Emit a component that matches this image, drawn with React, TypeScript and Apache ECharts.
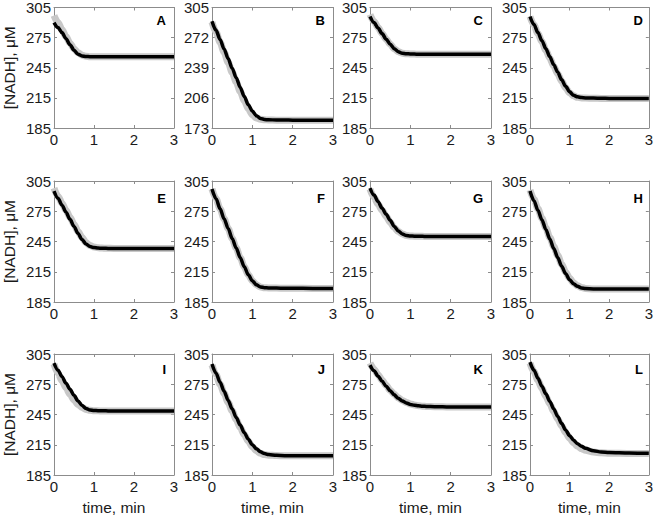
import React, { useEffect, useRef } from "react";
import * as echarts from "echarts";

// time grid (min)
const T = [0, 0.1, 0.2, 0.3, 0.4, 0.5, 0.6, 0.7, 0.8, 0.9, 1.0, 1.1, 1.2, 1.3, 1.4, 1.6, 1.8, 2.0, 2.5, 3.0];

const LABELS = ["A", "B", "C", "D", "E", "F", "G", "H", "I", "J", "K", "L"];

// fitted curves ([NADH], µM)
const FIT_A = [290, 285, 280, 274, 268, 262.5, 258.5, 256.8, 256.2, 256, 256, 256, 256, 256, 256, 256, 256, 256, 256, 256];
const FIT_B = [290, 280, 270, 259.5, 249, 238.5, 228, 217.5, 207.5, 198.5, 191.5, 186.5, 183.5, 182.3, 182, 181.8, 181.7, 181.6, 181.5, 181.5];
const FIT_C = [296, 290, 284.5, 279, 273.5, 268.5, 264, 261, 259.5, 259, 258.8, 258.6, 258.5, 258.5, 258.5, 258.5, 258.5, 258.5, 258.5, 258.5];
const FIT_D = [296, 288, 280, 272, 264, 256, 248, 240.5, 233, 226.5, 221, 217.5, 216, 215.3, 215, 214.8, 214.6, 214.5, 214.5, 214.5];
const FIT_E = [295, 288, 281, 274, 267, 260, 253, 247, 242.5, 240, 239, 238.5, 238.3, 238.2, 238.1, 238, 238, 238, 238, 238];
const FIT_F = [297, 287.5, 277.5, 267.5, 258, 248, 238.5, 229, 220, 212, 206, 202, 200, 199.2, 199, 198.8, 198.7, 198.6, 198.5, 198.5];
const FIT_G = [298, 291, 284.5, 278, 272, 266, 260, 255.5, 252.5, 251, 250.5, 250.3, 250.2, 250.1, 250, 250, 250, 250, 250, 250];
const FIT_H = [295, 285.5, 276, 266.5, 257, 247.5, 238, 229, 220.5, 213, 207, 203, 200.5, 199, 198.3, 198, 197.9, 197.8, 197.8, 197.8];
const FIT_I = [296, 289, 282.5, 276, 270, 264, 258.5, 254, 251, 249.5, 249, 248.8, 248.7, 248.6, 248.5, 248.5, 248.5, 248.5, 248.5, 248.5];
const FIT_J = [295, 286, 277, 268, 259, 250.5, 242, 234.5, 227, 220.5, 215, 211, 208, 206.3, 205.3, 204.5, 204.2, 204, 204, 204];
const FIT_K = [294, 288.5, 283, 278, 273, 268.5, 264.5, 261, 258.5, 256.5, 255, 254.2, 253.6, 253.2, 253, 252.8, 252.6, 252.5, 252.5, 252.5];
const FIT_L = [297, 289, 281, 273, 265.5, 258, 250.5, 243, 236, 229.5, 224, 219.5, 216, 213.5, 211.5, 209, 207.8, 207.2, 206.7, 206.5];

// measured traces ([NADH], µM), gray
const MEAS_A = [297, 290, 283, 276, 269.5, 264, 260, 257.5, 256.5, 256, 256, 256, 256, 256, 256, 256, 256, 256, 256, 256];
const MEAS_B = [289, 278, 267, 256, 245, 234, 223.5, 213, 203, 194, 187.5, 184, 182.5, 182, 181.8, 181.6, 181.5, 181.5, 181.5, 181.5];
const MEAS_C = [298, 291, 285, 279, 273.5, 268.5, 264, 261, 259.5, 259, 258.8, 258.6, 258.5, 258.5, 258.5, 258.5, 258.5, 258.5, 258.5, 258.5];
const MEAS_D = [296, 287.5, 279, 271, 262.5, 254.5, 246.5, 239, 231.5, 225, 220, 217, 215.5, 215, 214.8, 214.6, 214.5, 214.5, 214.5, 214.5];
const MEAS_E = [298, 290, 283, 276, 269, 262, 255, 249, 244, 241, 239.5, 238.8, 238.5, 238.3, 238.2, 238, 238, 238, 238, 238];
const MEAS_F = [297, 287.5, 277.5, 267.5, 258, 248, 238.5, 229, 220, 212, 206, 202, 200, 199.2, 199, 198.8, 198.7, 198.6, 198.5, 198.5];
const MEAS_G = [297, 289, 282, 276, 270, 264, 259, 255, 252.5, 251, 250.5, 250.3, 250.2, 250.1, 250, 250, 250, 250, 250, 250];
const MEAS_H = [296, 287, 277.5, 268, 258.5, 249, 240, 231, 222.5, 214.5, 208.5, 204, 201, 199.5, 198.5, 198, 197.9, 197.8, 197.8, 197.8];
const MEAS_I = [295, 286, 278.5, 271.5, 265, 259.5, 255, 252, 250, 249.2, 248.8, 248.6, 248.5, 248.5, 248.5, 248.5, 248.5, 248.5, 248.5, 248.5];
const MEAS_J = [294, 284.5, 275, 266, 257, 248.5, 240, 232, 225, 218.5, 213, 209, 206.5, 205.3, 204.7, 204.3, 204, 204, 204, 204];
const MEAS_K = [296, 290, 284.5, 279, 274, 269, 265, 261.5, 259, 257, 255.5, 254.5, 253.8, 253.3, 253, 252.8, 252.6, 252.5, 252.5, 252.5];
const MEAS_L = [296, 287.5, 279, 271, 263, 255.5, 248, 240.5, 233.5, 227, 221.5, 217, 213.5, 211, 209.5, 207.8, 207, 206.6, 206.3, 206.2];

const FITS = [FIT_A, FIT_B, FIT_C, FIT_D, FIT_E, FIT_F, FIT_G, FIT_H, FIT_I, FIT_J, FIT_K, FIT_L];
const MEAS = [MEAS_A, MEAS_B, MEAS_C, MEAS_D, MEAS_E, MEAS_F, MEAS_G, MEAS_H, MEAS_I, MEAS_J, MEAS_K, MEAS_L];

// y axis ranges
const Y_MIN = [185, 173, 185, 185, 185, 185, 185, 185, 185, 185, 185, 185];
const Y_MAX = [305, 305, 305, 305, 305, 305, 305, 305, 305, 305, 305, 305];
const Y_STEP = [30, 33, 30, 30, 30, 30, 30, 30, 30, 30, 30, 30];

const X_MIN = 0;
const X_MAX = 3;
const X_STEP = 1;

const Y_TITLE = "[NADH], \u03bcM";
const X_TITLE = "time, min";

const COL_LEFT = [53, 212, 370, 530];
const ROW_TOP = [7, 181, 354];
const PW = 121;
const PH = 121;
const LETTER_DY = [13, 17, 15];

const FONT = "'Liberation Sans', Arial, sans-serif";
const BOX = "#8c8c8c";
const TXT = "#1a1a1a";

export default function App() {
  const ref = useRef<HTMLDivElement>(null);
  useEffect(() => {
    if (!ref.current) return;
    const chart = echarts.init(ref.current, undefined, { renderer: "svg" });
    const grid: any[] = [];
    const xAxis: any[] = [];
    const yAxis: any[] = [];
    const series: any[] = [];
    const graphic: any[] = [];
    for (let i = 0; i < 12; i++) {
      const col = i % 4;
      const row = Math.floor(i / 4);
      const left = COL_LEFT[col];
      const top = ROW_TOP[row];
      grid.push({ left, top, width: PW, height: PH, containLabel: false });
      const axLine = { show: true, onZero: false, lineStyle: { color: BOX, width: 1 } };
      const tick = { show: true, inside: true, length: 3, lineStyle: { color: BOX } };
      xAxis.push({
        gridIndex: i, type: "value", position: "bottom", min: X_MIN, max: X_MAX, interval: X_STEP,
        axisLine: axLine, axisTick: tick, splitLine: { show: false },
        axisLabel: { fontSize: 15, margin: 4, color: TXT, fontFamily: FONT },
        name: row === 2 ? X_TITLE : "", nameLocation: "middle", nameGap: 24,
        nameTextStyle: { fontSize: 15.5, color: TXT, fontFamily: FONT },
      });
      xAxis.push({
        gridIndex: i, type: "value", position: "top", min: X_MIN, max: X_MAX, interval: X_STEP,
        axisLine: axLine, axisTick: tick, splitLine: { show: false }, axisLabel: { show: false },
      });
      yAxis.push({
        gridIndex: i, type: "value", position: "left", min: Y_MIN[i], max: Y_MAX[i], interval: Y_STEP[i],
        axisLine: axLine, axisTick: tick, splitLine: { show: false },
        axisLabel: { fontSize: 15, margin: 3, color: TXT, fontFamily: FONT },
        name: col === 0 ? Y_TITLE : "", nameLocation: "middle", nameGap: 37,
        nameTextStyle: { fontSize: 15.5, color: TXT, fontFamily: FONT },
      });
      yAxis.push({
        gridIndex: i, type: "value", position: "right", min: Y_MIN[i], max: Y_MAX[i], interval: Y_STEP[i],
        axisLine: axLine, axisTick: tick, splitLine: { show: false }, axisLabel: { show: false },
      });
      series.push({
        type: "line", xAxisIndex: 2 * i, yAxisIndex: 2 * i, showSymbol: false, smooth: 0.3,
        smoothMonotone: "x", lineStyle: { color: "#c8c8c8", width: 7 }, silent: true,
        data: T.map((t, k) => [t, MEAS[i][k]]),
      });
      series.push({
        type: "line", xAxisIndex: 2 * i, yAxisIndex: 2 * i, showSymbol: false, smooth: 0.3,
        smoothMonotone: "x", lineStyle: { color: "#000", width: 3.5 }, silent: true,
        data: T.map((t, k) => [t, FITS[i][k]]),
      });
      graphic.push({
        type: "text", x: left + PW - 8, y: top + LETTER_DY[row], z: 10,
        style: { text: LABELS[i], fill: "#000", font: `bold 13px ${FONT}`, align: "right", verticalAlign: "middle" },
      });
    }
    chart.setOption({ animation: false, backgroundColor: "#fff", grid, xAxis, yAxis, series, graphic });
    return () => chart.dispose();
  }, []);
  return <div ref={ref} style={{ position: "absolute", left: 0, top: 0, width: 656, height: 516 }} />;
}
